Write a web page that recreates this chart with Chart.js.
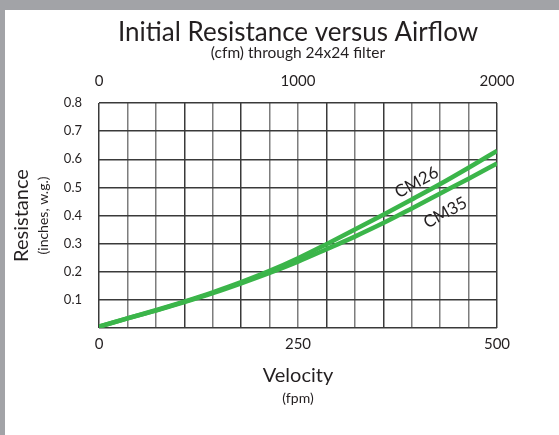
<!DOCTYPE html>
<html><head><meta charset="utf-8">
<script src="https://cdn.jsdelivr.net/npm/chart.js@4/dist/chart.umd.min.js"></script>
<style>
html,body{margin:0;padding:0;background:#a2a3a7;width:559px;height:435px;overflow:hidden}
#wrap{position:absolute;left:5px;top:10px;width:554px;height:425px;background:#fff}
</style></head><body><div id="wrap"><canvas id="c"></canvas></div>
<script>
// ---- data ----
const velocity = [0, 35.7, 71.4, 107.1, 142.9, 178.6, 214.3, 250, 285.7, 321.4, 357.1, 392.9, 428.6, 464.3, 500];
const cm26 = [0.005, 0.034, 0.063, 0.094, 0.127, 0.163, 0.203, 0.248, 0.298, 0.350, 0.403, 0.457, 0.512, 0.570, 0.630];
const cm35 = [0.005, 0.034, 0.062, 0.092, 0.124, 0.159, 0.196, 0.236, 0.280, 0.325, 0.373, 0.425, 0.478, 0.531, 0.585];
const seriesNames = ['CM26', 'CM35'];
const velocityGrid = [0, 35.714, 71.429, 107.143, 142.857, 178.571, 214.286, 250, 285.714, 321.429, 357.143, 392.857, 428.571, 464.286, 500];
const velocityLabels = [0, 250, 500];
const cfmTicks = [0, 1000, 2000];
const resistanceTicks = [0, 0.1, 0.2, 0.3, 0.4, 0.5, 0.6, 0.7, 0.8];
const titleText = 'Initial Resistance versus Airflow';
const subtitleText = '(cfm) through 24x24 filter';
// label anchors in data space (velocity, resistance)
const labelAnchorV = [399, 435];
const labelAnchorR = [0.518, 0.410];

const FONT = 'Lato';
const TXT = '#231f20';
const GREEN = '#3bb54a';
const DARK = '#3a3a3a', MID = '#7d7d7d';
const darkCols = [0, 3, 5, 8, 10, 14];

const titlesPlugin = {
  id: 'titles',
  afterDraw(chart) {
    const ctx = chart.ctx, ca = chart.chartArea;
    const cx = (ca.left + ca.right) / 2;
    ctx.save();
    ctx.fillStyle = TXT;
    ctx.textAlign = 'center';
    ctx.textBaseline = 'middle';
    ctx.font = '26px ' + FONT;
    ctx.fillText(titleText, cx, 23);
    ctx.font = '15.5px ' + FONT;
    ctx.fillText(subtitleText, cx, 43);
    // curve labels
    const x = chart.scales.x, y = chart.scales.y;
    ctx.font = '17px ' + FONT;
    seriesNames.forEach((n, i) => {
      const px = x.getPixelForValue(labelAnchorV[i]);
      const py = y.getPixelForValue(labelAnchorR[i]);
      ctx.save();
      ctx.translate(px, py);
      ctx.rotate(-29 * Math.PI / 180);
      ctx.fillText(n, 0, 0);
      ctx.restore();
    });
    ctx.restore();
  }
};

const hiddenAxis = (pos, weight, text, size, pad, dim) => ({
  type: 'linear', position: pos, weight: weight,
  ticks: { display: false }, grid: { display: false }, border: { display: false },
  title: { display: true, text: text, color: TXT, font: { family: FONT, size: size }, padding: pad },
  afterFit(s) { if (pos === 'left') s.width = dim; else s.height = dim; }
});

new Chart(document.getElementById('c'), {
  type: 'line',
  data: {
    datasets: [
      { label: seriesNames[0], data: velocity.map((v, i) => ({ x: v, y: cm26[i] })), borderColor: GREEN, borderWidth: 4.5, pointRadius: 0, cubicInterpolationMode: 'monotone', fill: false },
      { label: seriesNames[1], data: velocity.map((v, i) => ({ x: v, y: cm35[i] })), borderColor: GREEN, borderWidth: 4.5, pointRadius: 0, cubicInterpolationMode: 'monotone', fill: false }
    ]
  },
  options: {
    responsive: true, maintainAspectRatio: false, animation: false, devicePixelRatio: 1,
    layout: { padding: { top: 63, left: 0, right: 62, bottom: 28 } },
    plugins: { legend: { display: false }, tooltip: { enabled: false }, title: { display: false } },
    scales: {
      x: {
        type: 'linear', position: 'bottom', min: 0, max: 500, weight: 0,
        afterBuildTicks(s) { s.ticks = velocityGrid.map(v => ({ value: v })); },
        ticks: { color: TXT, font: { family: FONT, size: 15 }, padding: 7, maxRotation: 0, autoSkip: false,
          callback: (v) => velocityLabels.includes(v) ? String(v) : '' },
        grid: { drawTicks: false, lineWidth: 1.5, color: (c) => darkCols.includes(c.index) ? DARK : MID },
        border: { display: false },
        afterFit(s) { s.height = 30; }
      },
      x2: hiddenAxis('bottom', 1, 'Velocity', 20, { top: 0, bottom: 0 }, 30),
      x3: hiddenAxis('bottom', 2, '(fpm)', 14, { top: 0, bottom: 0 }, 19),
      xt: {
        type: 'linear', position: 'top', min: 0, max: 2000,
        afterBuildTicks(s) { s.ticks = cfmTicks.map(v => ({ value: v })); },
        ticks: { color: TXT, font: { family: FONT, size: 15 }, padding: 5, maxRotation: 0, autoSkip: false,
          callback: (v) => String(v) },
        grid: { display: false }, border: { display: false },
        afterFit(s) { s.height = 30; }
      },
      y: {
        type: 'linear', position: 'left', min: 0, max: 0.8, weight: 0,
        afterBuildTicks(s) { s.ticks = resistanceTicks.map(v => ({ value: v })); },
        ticks: { color: TXT, font: { family: FONT, size: 13 }, padding: 17, autoSkip: false,
          callback: (v) => v === 0 ? '' : v.toFixed(1) },
        grid: { drawTicks: false, lineWidth: 1.5, color: DARK },
        border: { display: false },
        afterFit(s) { s.width = 46; }
      },
      y2: hiddenAxis('left', 1, '(inches, w.g.)', 14, { top: 2, bottom: 0 }, 20),
      y3: hiddenAxis('left', 2, 'Resistance', 20, { top: 5, bottom: 0 }, 28)
    }
  },
  plugins: [titlesPlugin]
});
</script>
</body></html>
